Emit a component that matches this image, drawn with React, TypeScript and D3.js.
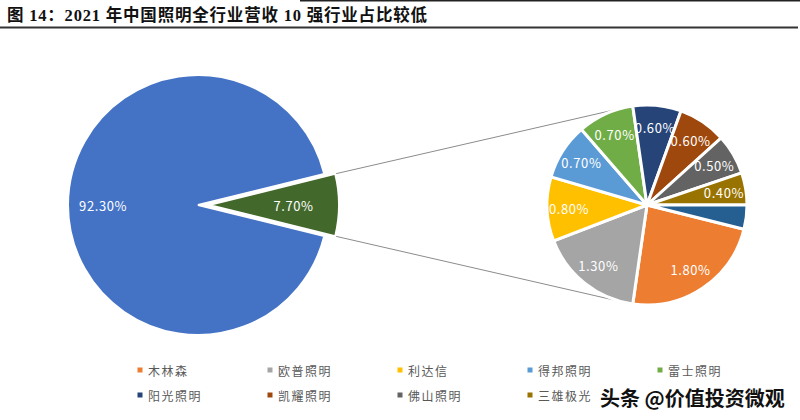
import React from "react";
import * as d3 from "d3";

const titleText = "图 14：2021 年中国照明全行业营收 10 强行业占比较低";
const bigLabels = ["其他", "前十"];
const bigValues = [92.3, 7.7];
const bigColors = ["#4472C4", "#43682B"];

const companyNames = ["木林森", "欧普照明", "利达信", "得邦照明", "雷士照明", "阳光照明", "凯耀照明", "佛山照明", "三雄极光"];
const smallValues = [1.8, 1.3, 0.8, 0.7, 0.7, 0.6, 0.6, 0.5, 0.4, 0.3];
const smallLabels = ["1.80%", "1.30%", "0.80%", "0.70%", "0.70%", "0.60%", "0.60%", "0.50%", "0.40%", ""];
const smallColors = ["#ED7D31", "#A5A5A5", "#FFC000", "#5B9BD5", "#70AD47", "#264478", "#9E480E", "#636363", "#997300", "#255E91"];
const watermark = "头条 @价值投资微观";

const W = 800;
const H = 420;
const bigC = { x: 198, y: 205 };
const bigR = 130;
const explode = 11;
const smallC = { x: 647, y: 205 };
const smallR = 100;

export default function App() {
  const bigTotal = d3.sum(bigValues);
  const greenFrac = bigValues[1] / bigTotal;
  const bigStart = Math.PI / 2 - 2 * Math.PI * (1 - greenFrac / 2);
  const bigPie = d3
    .pie<number>()
    .sort(null)
    .value((d) => d)
    .startAngle(bigStart)
    .endAngle(bigStart + 2 * Math.PI)(bigValues);
  const bigArc = d3.arc<d3.PieArcDatum<number>>().innerRadius(0).outerRadius(bigR);

  const smallTotal = d3.sum(smallValues);
  const smallStart = Math.PI / 2 + (smallValues[smallValues.length - 1] / smallTotal) * 2 * Math.PI;
  const smallPie = d3
    .pie<number>()
    .sort(null)
    .value((d) => d)
    .startAngle(smallStart)
    .endAngle(smallStart + 2 * Math.PI)(smallValues);
  const smallArc = d3.arc<d3.PieArcDatum<number>>().innerRadius(0).outerRadius(smallR);

  const g = bigPie[1];
  const gMid = (g.startAngle + g.endAngle) / 2;
  const gOff = { x: explode * Math.sin(gMid), y: -explode * Math.cos(gMid) };
  const gCenter = { x: bigC.x + gOff.x, y: bigC.y + gOff.y };
  const corner = (a: number) => ({ x: gCenter.x + bigR * Math.sin(a), y: gCenter.y - bigR * Math.cos(a) });
  const pTop = corner(g.startAngle);
  const pBot = corner(g.endAngle);

  const tangent = (p: { x: number; y: number }, upper: boolean) => {
    const dx = smallC.x - p.x;
    const dy = smallC.y - p.y;
    const d = Math.hypot(dx, dy);
    const phi = Math.atan2(dy, dx);
    const alpha = Math.asin(smallR / d);
    const dir = upper ? phi - alpha : phi + alpha;
    const L = Math.sqrt(d * d - smallR * smallR) * 0.96;
    return { x: p.x + L * Math.cos(dir), y: p.y + L * Math.sin(dir) };
  };
  const tTop = tangent(pTop, true);
  const tBot = tangent(pBot, false);

  const labelPos = (d: d3.PieArcDatum<number>, r: number) => {
    const a = (d.startAngle + d.endAngle) / 2;
    return { x: r * Math.sin(a), y: -r * Math.cos(a) };
  };

  const labelFont = "'Noto Sans CJK SC', 'Noto Sans', sans-serif";

  return (
    <svg width={W} height={H} style={{ position: "fixed", left: 0, top: 0, background: "#fff" }}>
      <rect x={0} y={0} width={W} height={H} fill="#fff" />
      <line x1={300} x2={W} y1={0.5} y2={0.5} stroke="#222" strokeWidth={2} />
      <text
        x={7}
        y={21}
        fontSize={16.5}
        fontWeight="bold"
        letterSpacing={0.8}
        fontFamily="'Liberation Serif', 'Noto Sans CJK SC', serif"
        fill="#111"
      >
        {titleText}
      </text>
      <line x1={0} x2={798} y1={27.5} y2={27.5} stroke="#333" strokeWidth={2.2} />

      <line x1={pTop.x} y1={pTop.y} x2={tTop.x} y2={tTop.y} stroke="#8c8c8c" strokeWidth={1} />
      <line x1={pBot.x} y1={pBot.y} x2={tBot.x} y2={tBot.y} stroke="#8c8c8c" strokeWidth={1} />

      <g transform={`translate(${bigC.x},${bigC.y})`}>
        {bigPie.map((d, i) => {
          const off = i === 1 ? gOff : { x: 0, y: 0 };
          return (
            <path
              key={bigLabels[i]}
              d={bigArc(d) || ""}
              transform={`translate(${off.x},${off.y})`}
              fill={bigColors[i]}
              stroke="#fff"
              strokeWidth={2}
            />
          );
        })}
        {bigPie.map((d, i) => {
          const off = i === 1 ? gOff : { x: 0, y: 0 };
          const p = labelPos(d, i === 1 ? bigR * 0.65 : bigR * 0.73);
          return (
            <text
              key={"l" + i}
              x={p.x + off.x}
              y={p.y + off.y}
              textAnchor="middle"
              dominantBaseline="central"
              fontSize={13}
              fontFamily={labelFont}
              letterSpacing={0.6}
              fill="#fff"
            >
              {bigValues[i].toFixed(2) + "%"}
            </text>
          );
        })}
      </g>

      <g transform={`translate(${smallC.x},${smallC.y})`}>
        {smallPie.map((d, i) => (
          <path key={"s" + i} d={smallArc(d) || ""} fill={smallColors[i]} stroke="#fff" strokeWidth={3} strokeLinejoin="round" />
        ))}
        {smallPie.map((d, i) => {
          const p = labelPos(d, smallR * 0.78);
          return (
            <text
              key={"sl" + i}
              x={p.x}
              y={p.y}
              textAnchor="middle"
              dominantBaseline="central"
              fontSize={13}
              fontFamily={labelFont}
              letterSpacing={0.6}
              fill="#fff"
            >
              {smallLabels[i]}
            </text>
          );
        })}
      </g>

      {companyNames.map((name, i) => {
        const col = i % 5;
        const row = Math.floor(i / 5);
        const x = 140 + col * 130;
        const y = 370 + row * 25;
        return (
          <g key={name}>
            <rect x={x - 2.5} y={y - 2.5} width={5} height={5} fill={smallColors[i]} />
            <text
              x={x + 8}
              y={y}
              dominantBaseline="central"
              fontSize={12}
              letterSpacing={1.5}
              fontFamily="'Noto Sans CJK SC', sans-serif"
              fill="#595959"
            >
              {name}
            </text>
          </g>
        );
      })}

      <text
        x={600}
        y={406}
        fontSize={20}
        fontFamily="'Noto Sans CJK SC', sans-serif"
        fontWeight={600}
        fill="#111"
        stroke="#fff"
        strokeWidth={3}
        paintOrder="stroke"
      >
        {watermark}
      </text>
    </svg>
  );
}
